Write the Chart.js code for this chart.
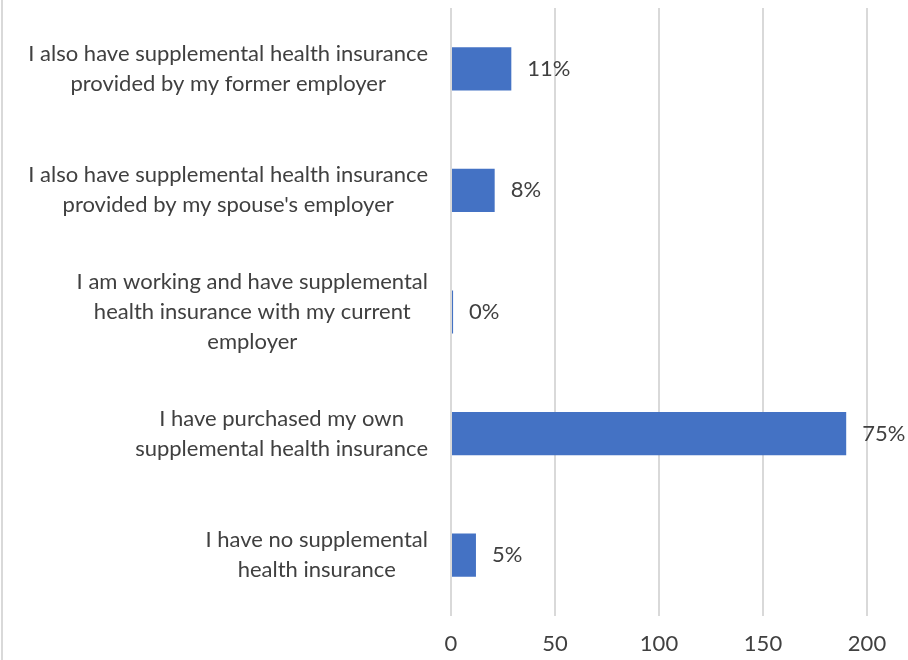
<!DOCTYPE html>
<html>
<head>
<meta charset="utf-8">
<title>Supplemental health insurance</title>
<script src="https://cdn.jsdelivr.net/npm/chart.js@4/dist/chart.umd.min.js"></script>
<style>
  html, body { margin: 0; padding: 0; background: #ffffff; }
  #wrap { width: 908px; height: 660px; position: relative; }
</style>
</head>
<body>
<div id="wrap"><canvas id="chart" width="908" height="660"></canvas></div>
<script>
// answers, each one split into the lines it is printed on
const answers = [
  ["I also have supplemental health insurance", "provided by my former employer"],
  ["I also have supplemental health insurance", "provided by my spouse's employer"],
  ["I am working and have supplemental", "health insurance with my current", "employer"],
  ["I have purchased my own", "supplemental health insurance"],
  ["I have no supplemental", "health insurance"]
];
// number of respondents for each answer
const responses = [29, 21, 1, 190, 12];
const xTicks = [0, 50, 100, 150, 200];

const FONT = "Lato, 'Open Sans', sans-serif";
const FONT_SIZE = 22;
const TEXT_COLOR = "#404040";
const GRID_COLOR = "#d9d9d9";

const total = responses.reduce((a, b) => a + b, 0);
const shares = responses.map((v) => Math.round((v / total) * 100) + "%");

/**
 * draws the category labels (lines centred, block set against the axis),
 * the percentage next to each bar and the thin frame line on the left
 */
const labelsPlugin = {
  id: "labelsPlugin",
  beforeDraw(chart) {
    const ctx = chart.ctx;
    ctx.save();
    ctx.strokeStyle = GRID_COLOR;
    ctx.lineWidth = 2;
    ctx.beginPath();
    ctx.moveTo(2, 0);
    ctx.lineTo(2, chart.height);
    ctx.stroke();
    ctx.restore();
  },
  afterDatasetsDraw(chart) {
    const ctx = chart.ctx;
    const yScale = chart.scales.y;
    const lineHeight = 30;
    ctx.save();
    ctx.font = `${FONT_SIZE}px ${FONT}`;
    ctx.fillStyle = TEXT_COLOR;
    ctx.textBaseline = "middle";
    ctx.textAlign = "center";

    //category labels
    const right = chart.chartArea.left - 23;
    answers.forEach((lines, i) => {
      const yMid = yScale.getPixelForValue(i);
      const blockW = Math.max(...lines.map((l) => ctx.measureText(l).width));
      const cx = right - blockW / 2;
      const y0 = yMid - ((lines.length - 1) * lineHeight) / 2;
      lines.forEach((line, j) => {
        ctx.fillText(line, cx, y0 + j * lineHeight);
      });
    });

    //value labels
    ctx.textAlign = "left";
    const meta = chart.getDatasetMeta(0);
    meta.data.forEach((bar, i) => {
      ctx.fillText(shares[i], bar.x + 16, bar.y);
    });
    ctx.restore();
  }
};

const ctx = document.getElementById("chart").getContext("2d");
new Chart(ctx, {
  type: "bar",
  data: {
    labels: answers,
    datasets: [
      {
        data: responses,
        backgroundColor: "#4472c4",
        borderWidth: 0,
        categoryPercentage: 1,
        barPercentage: 0.355
      }
    ]
  },
  options: {
    indexAxis: "y",
    responsive: false,
    animation: false,
    layout: { padding: { top: 8, right: 41, left: 0, bottom: 0 } },
    plugins: {
      legend: { display: false },
      tooltip: { enabled: false }
    },
    scales: {
      x: {
        min: 0,
        max: 200,
        afterBuildTicks: (scale) => {
          scale.ticks = xTicks.map((v) => ({ value: v }));
        },
        afterFit: (scale) => {
          scale.height = 44;
        },
        grid: {
          color: GRID_COLOR,
          lineWidth: 2,
          drawTicks: false
        },
        border: { display: false },
        ticks: {
          color: TEXT_COLOR,
          padding: 15,
          font: { family: FONT, size: FONT_SIZE }
        }
      },
      y: {
        afterFit: (scale) => {
          scale.width = 451;
        },
        grid: { display: false },
        border: { display: false },
        ticks: { display: false }
      }
    }
  },
  plugins: [labelsPlugin]
});
</script>
</body>
</html>
